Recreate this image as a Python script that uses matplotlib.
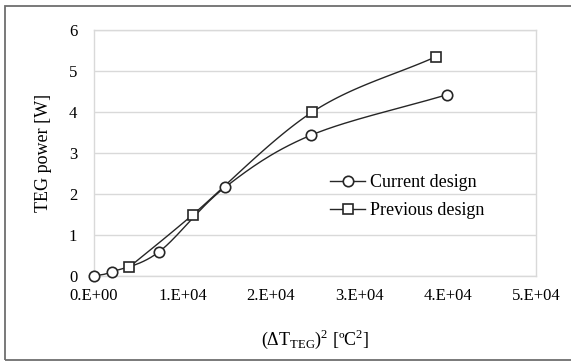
import numpy as np
import matplotlib
matplotlib.use('Agg')
import matplotlib.pyplot as plt
from matplotlib.patches import Rectangle

plt.rcParams['font.family'] = ['Liberation Serif', 'DejaVu Serif']
plt.rcParams['mathtext.fontset'] = 'custom'
plt.rcParams['mathtext.rm'] = 'Liberation Serif'

# data
cur_x = [0, 2000, 7300, 14800, 24500, 39900]
cur_y = [0.0, 0.10, 0.58, 2.16, 3.43, 4.42]
prev_x = [4000, 11200, 24700, 38700]
prev_y = [0.22, 1.50, 4.00, 5.35]
xticks = [0, 10000, 20000, 30000, 40000, 50000]
xtick_labels = ['0.E+00', '1.E+04', '2.E+04', '3.E+04', '4.E+04', '5.E+04']
yticks = [0, 1, 2, 3, 4, 5, 6]


def smooth(xs, ys, n=30):
    # catmull-rom like excel smoothed line, done on scaled coords
    sx, sy = 5e4, 6.0
    p = np.column_stack([np.array(xs) / sx, np.array(ys) / sy])
    p = np.vstack([p[0] - (p[1] - p[0]), p, p[-1] + (p[-1] - p[-2])])
    out = []
    for i in range(1, len(p) - 2):
        p0, p1, p2, p3 = p[i - 1], p[i], p[i + 1], p[i + 2]
        c1 = p1 + (p2 - p0) / 6
        c2 = p2 - (p3 - p1) / 6
        t = np.linspace(0, 1, n)[:, None]
        seg = (1 - t) ** 3 * p1 + 3 * (1 - t) ** 2 * t * c1 + 3 * (1 - t) * t ** 2 * c2 + t ** 3 * p2
        out.append(seg)
    out = np.vstack(out)
    return out[:, 0] * sx, out[:, 1] * sy


fig = plt.figure(figsize=(5.71, 3.63), dpi=100)
ax = fig.add_axes([94 / 571, 1 - 276 / 363, 442 / 571, 246 / 363])

# outer chart frame
fig.patches.append(Rectangle((5 / 571, 3 / 363), 1.0, 354 / 363, transform=fig.transFigure,
                             fill=False, edgecolor='#6e6e6e', linewidth=1.3))

lc = '#262626'
for xs, ys, mk, lab in [(cur_x, cur_y, 'o', 'Current design'),
                        (prev_x, prev_y, 's', 'Previous design')]:
    sxv, syv = smooth(xs, ys)
    ax.plot(sxv, syv, color=lc, linewidth=1.0, zorder=3, clip_on=False)
    ax.plot(xs, ys, linestyle='none', marker=mk, markersize=7.5, markerfacecolor='white',
            markeredgecolor=lc, markeredgewidth=1.2, zorder=4, clip_on=False)
    ax.plot([], [], color=lc, linewidth=1.0, marker=mk, markersize=7.5,
            markerfacecolor='white', markeredgecolor=lc, markeredgewidth=1.2, label=lab)

ax.set_xlim(0, 50000)
ax.set_ylim(0, 6)
ax.set_xticks(xticks)
ax.set_xticklabels(xtick_labels)
ax.set_yticks(yticks)
ax.tick_params(length=0, labelsize=12, colors='black')
ax.tick_params(axis='y', pad=12)
ax.tick_params(axis='x', pad=9)
ax.grid(axis='y', color='#d9d9d9', linewidth=1.0)
ax.set_axisbelow(True)
for s in ax.spines.values():
    s.set_color('#d9d9d9')
    s.set_linewidth(1.0)

ax.set_ylabel('TEG power [W]', fontsize=13, labelpad=12)
ax.set_xlabel(r'(ΔT$_\mathregular{TEG}$)$^\mathregular{2}$ [ºC$^\mathregular{2}$]', fontsize=13, labelpad=17)

ax.legend(loc='center left', bbox_to_anchor=(0.498, 0.322), frameon=False, fontsize=13,
          handlelength=1.9, handletextpad=0.3, labelspacing=0.62)

fig.savefig('out.png', dpi=100)
